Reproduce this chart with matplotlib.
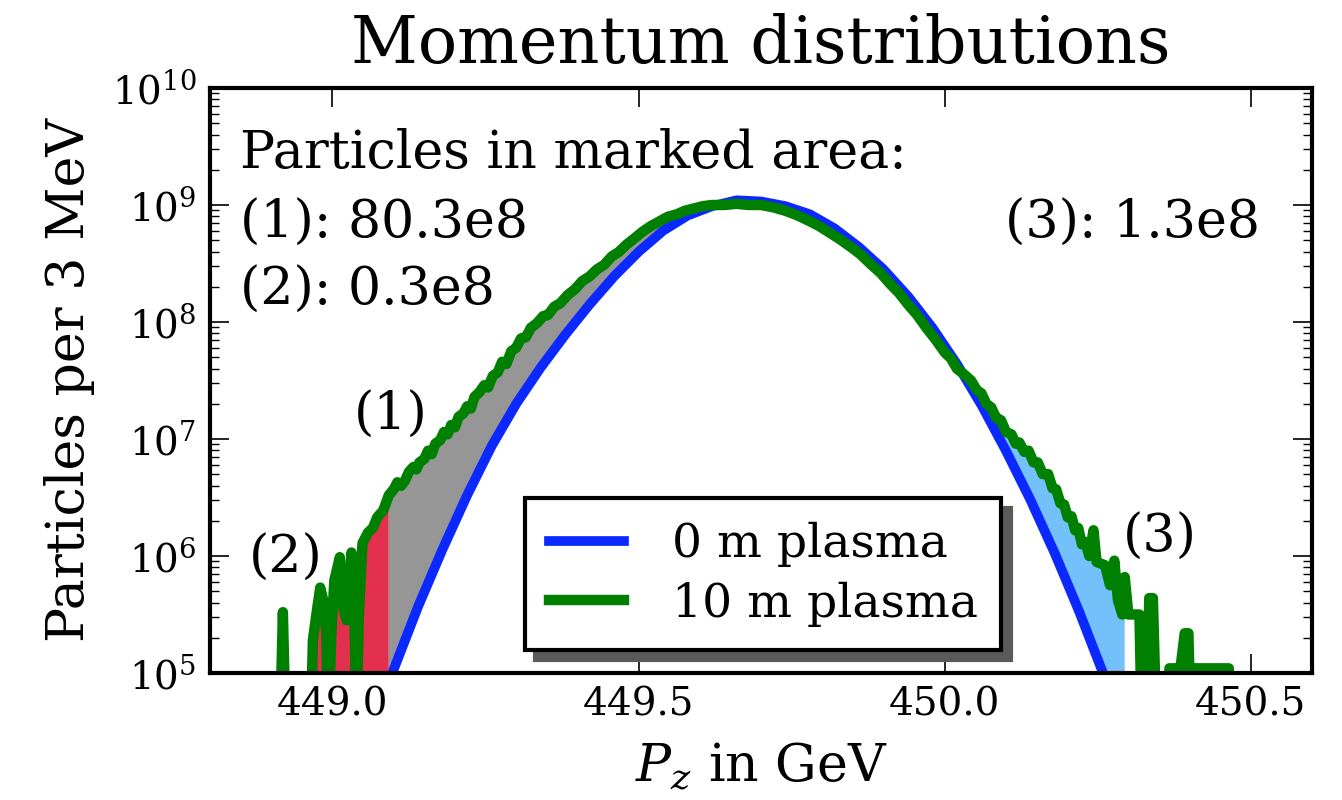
import matplotlib
matplotlib.use("Agg")
import matplotlib.pyplot as plt
import numpy as np
from matplotlib.ticker import FixedLocator, FormatStrFormatter

plt.rcParams['font.family'] = ['DejaVu Serif']
plt.rcParams['mathtext.fontset'] = 'dejavuserif'

# --- data (log10 of particles per 3 MeV) ---
blue_x = [449.08, 449.10, 449.14, 449.18, 449.22, 449.26, 449.30, 449.34, 449.38,
          449.42, 449.46, 449.50, 449.54, 449.58, 449.62, 449.66, 449.70, 449.74,
          449.78, 449.82, 449.86, 449.90, 449.94, 449.98, 450.02, 450.06, 450.10,
          450.14, 450.18, 450.22, 450.26, 450.28]
blue_log = [4.75, 5.03, 5.57, 6.06, 6.52, 6.94, 7.30, 7.61, 7.89,
            8.15, 8.39, 8.60, 8.78, 8.91, 8.99, 9.04, 9.03, 8.99,
            8.92, 8.80, 8.64, 8.45, 8.22, 7.95, 7.64, 7.29, 6.90,
            6.48, 6.02, 5.52, 4.98, 4.69]

green_x = [448.912, 448.919, 448.926,
           448.962, 448.968, 448.975, 448.980, 448.985, 448.990, 448.993, 448.998,
           449.003, 449.012, 449.018, 449.023, 449.031, 449.036, 449.039, 449.043,
           449.049, 449.058, 449.066, 449.073, 449.083,
           449.092, 449.100, 449.106, 449.112, 449.118, 449.125, 449.132, 449.137,
           449.142, 449.150, 449.156, 449.162, 449.168, 449.176, 449.182, 449.188,
           449.194, 449.200, 449.206, 449.214, 449.220, 449.226, 449.232, 449.240,
           449.248, 449.254, 449.262, 449.270, 449.277, 449.284, 449.292, 449.300,
           449.308, 449.316, 449.324, 449.334, 449.344, 449.352, 449.362, 449.372,
           449.384, 449.396, 449.408, 449.420, 449.432, 449.444, 449.456, 449.468,
           449.480, 449.492, 449.506, 449.520, 449.534, 449.548, 449.562, 449.575,
           449.590, 449.605, 449.620, 449.640, 449.660, 449.680, 449.700, 449.720,
           449.740, 449.760, 449.780, 449.795, 449.810, 449.828, 449.847, 449.862,
           449.880, 449.895, 449.910, 449.925, 449.940, 449.955, 449.970, 449.985,
           450.000, 450.010, 450.020, 450.030, 450.043, 450.052, 450.060, 450.068,
           450.076, 450.084, 450.092, 450.100, 450.109, 450.116, 450.122, 450.130,
           450.137, 450.145, 450.152, 450.160, 450.169, 450.176, 450.182, 450.189,
           450.195, 450.201, 450.207, 450.213, 450.218, 450.224, 450.230, 450.236,
           450.243, 450.248, 450.262, 450.270, 450.277,
           450.283, 450.290, 450.294, 450.300, 450.306, 450.318, 450.322, 450.330,
           450.334, 450.340, 450.346, 450.364, 450.367, 450.385, 450.392, 450.398,
           450.402, 450.405, 450.408, 450.464, 450.470]
green_log = [4.00, 5.52, 4.00,
             4.00, 5.28, 5.55, 5.73, 5.62, 5.34, 4.50, 5.31,
             5.79, 5.99, 5.55, 5.45, 6.03, 5.48, 4.50, 5.48,
             6.11, 6.20, 6.24, 6.33, 6.39,
             6.52, 6.57, 6.63, 6.60, 6.64, 6.72, 6.76, 6.74,
             6.80, 6.83, 6.90, 6.87, 6.96, 6.99, 7.06, 7.04,
             7.12, 7.10, 7.19, 7.22, 7.28, 7.26, 7.36, 7.40,
             7.46, 7.44, 7.54, 7.57, 7.66, 7.64, 7.75, 7.78,
             7.86, 7.87, 7.95, 7.99, 8.05, 8.06, 8.13, 8.16,
             8.23, 8.28, 8.35, 8.39, 8.45, 8.49, 8.56, 8.60,
             8.66, 8.71, 8.77, 8.82, 8.86, 8.90, 8.92, 8.95,
             8.97, 8.99, 9.00, 9.00, 9.01, 9.00, 9.00, 8.98,
             8.95, 8.91, 8.86, 8.82, 8.77, 8.71, 8.64, 8.58,
             8.49, 8.42, 8.33, 8.25, 8.15, 8.06, 7.95, 7.85,
             7.74, 7.69, 7.60, 7.56, 7.50, 7.42, 7.39, 7.30,
             7.27, 7.18, 7.16, 7.06, 7.04, 6.96, 6.97, 6.89,
             6.90, 6.80, 6.80, 6.70, 6.70, 6.58, 6.57, 6.45,
             6.44, 6.33, 6.34, 6.22, 6.24, 6.10, 6.12, 6.00,
             6.22, 5.95, 5.92, 5.75, 5.96,
             5.62, 5.50, 5.82, 5.50, 5.50, 5.50, 4.50, 4.50,
             5.64, 5.64, 4.50, 4.50, 5.04, 5.04, 5.34, 5.34,
             4.50, 4.50, 5.04, 5.04, 4.00]

labels = ["0 m plasma", "10 m plasma"]
area_counts = ["80.3e8", "0.3e8", "1.3e8"]
x_ticks = [449.0, 449.5, 450.0, 450.5]

# marked areas (x ranges in GeV)
red_range = (448.962, 449.092)
gray_range = (449.092, 449.60)
lblue_range = (450.043, 450.294)

gx = np.array(green_x)
gy = 10.0 ** np.array(green_log)
bx = np.array(blue_x)
by = 10.0 ** np.array(blue_log)

fig = plt.figure(figsize=(13.42, 8.0), dpi=100)
ax = fig.add_axes([0.1565, 0.15875, 0.8212, 0.73125])
ax.set_yscale('log')

# (2) red area under the green tail
m = (gx >= red_range[0]) & (gx <= red_range[1])
ax.fill(np.concatenate([gx[m], [red_range[1], red_range[0]]]),
        np.concatenate([gy[m], [1e4, 1e4]]), color='#e3304e', lw=0)

# (1) gray area between green and blue
mg = (gx >= gray_range[0]) & (gx <= gray_range[1])
mb = (bx >= 449.10) & (bx <= 449.62)
ax.fill(np.concatenate([gx[mg], bx[mb][::-1], [gray_range[0]]]),
        np.concatenate([gy[mg], by[mb][::-1], [1e4]]), color='#969696', lw=0)

# (3) light blue area between green and blue
mg = (gx >= lblue_range[0]) & (gx <= lblue_range[1])
mb = (bx >= 450.06) & (bx <= 450.28)
ax.fill(np.concatenate([gx[mg], [lblue_range[1]], bx[mb][::-1]]),
        np.concatenate([gy[mg], [1e4], by[mb][::-1]]), color='#73c0fa', lw=0)

ax.plot(bx, by, color='#0a28ff', lw=7, label=labels[0])
ax.plot(gx, gy, color='#008000', lw=7.5, label=labels[1])

ax.set_xlim(448.8, 450.6)
ax.set_ylim(1e5, 1e10)
ax.xaxis.set_major_locator(FixedLocator(x_ticks))
ax.xaxis.set_major_formatter(FormatStrFormatter('%.1f'))

for s in ax.spines.values():
    s.set_linewidth(3)
ax.tick_params(which='both', direction='in', top=True, right=True, labelsize=28)
ax.tick_params(which='major', length=13.5, width=1.2, pad=10)
ax.tick_params(which='minor', length=6.5, width=1.0)

ax.set_title("Momentum distributions", fontsize=47, pad=18)
ax.set_xlabel("$P_z$ in GeV", fontsize=37.5, labelpad=12)
ax.set_ylabel("Particles per 3 MeV", fontsize=37.5, labelpad=12)

fs = 37.5
ax.text(0.027, 0.863, "Particles in marked area:", transform=ax.transAxes, fontsize=fs)
ax.text(0.027, 0.744, "(1): " + area_counts[0], transform=ax.transAxes, fontsize=fs)
ax.text(0.027, 0.629, "(2): " + area_counts[1], transform=ax.transAxes, fontsize=fs)
ax.text(0.953, 0.744, "(3): " + area_counts[2], transform=ax.transAxes, fontsize=fs, ha='right')
ax.text(0.164, 0.415, "(1)", transform=ax.transAxes, fontsize=fs, ha='center')
ax.text(0.069, 0.171, "(2)", transform=ax.transAxes, fontsize=fs, ha='center')
ax.text(0.862, 0.207, "(3)", transform=ax.transAxes, fontsize=fs, ha='center')

leg = ax.legend(loc='lower center', bbox_to_anchor=(0.502, 0.039), borderaxespad=0,
                fontsize=34, fancybox=False, framealpha=1, edgecolor='black',
                shadow={'color': '#5a5a5a', 'alpha': 1, 'ox': 7, 'oy': -7},
                handlelength=1.6, handletextpad=1.0, borderpad=0.5, labelspacing=0.3)
leg.get_frame().set_linewidth(3)

fig.savefig("out.png", dpi=100)
